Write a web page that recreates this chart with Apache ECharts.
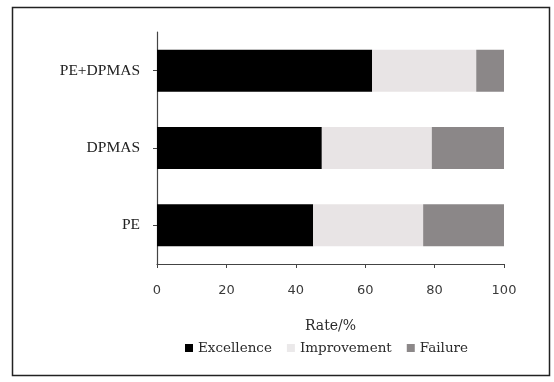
<!DOCTYPE html>
<html>
<head>
<meta charset="utf-8">
<script src="https://cdn.jsdelivr.net/npm/echarts@6/dist/echarts.min.js"></script>
<style>
html,body{margin:0;padding:0;background:#fff;}
#c{width:554px;height:382px;}
</style>
</head>
<body>
<div id="c"></div>
<script>
const categories = ['PE', 'DPMAS', 'PE+DPMAS'];
const excellence = [45, 47.5, 62];
const improvement = [31.7, 31.7, 30];
const failure = [23.3, 20.8, 8];
const xTicks = [0, 20, 40, 60, 80, 100];

const chart = echarts.init(document.getElementById('c'), null, {renderer: 'canvas'});
const serif = 'DejaVu Serif';
function bar(name, data, color) {
  return {
    name: name, type: 'bar', stack: 'total', data: data,
    barWidth: 42,
    itemStyle: {color: color},
    emphasis: {disabled: true}
  };
}
chart.setOption({
  animation: false,
  backgroundColor: '#fff',
  grid: {left: 157, right: 50, top: 32, bottom: 118},
  legend: {
    top: 336, left: 180,
    itemWidth: 8, itemHeight: 8, itemGap: 15,
    icon: 'rect',
    textStyle: {fontFamily: serif, fontSize: 13.5, color: '#2a2a2a'},
    data: [
      {name: 'Excellence', itemStyle: {color: '#000'}},
      {name: 'Improvement', itemStyle: {color: '#ebe9ea'}},
      {name: 'Failure', itemStyle: {color: '#8c8889'}}
    ]
  },
  xAxis: {
    type: 'value', min: xTicks[0], max: xTicks[xTicks.length - 1], interval: 20,
    name: 'Rate/%', nameLocation: 'middle', nameGap: 55,
    nameTextStyle: {fontFamily: serif, fontSize: 14, color: '#2a2a2a'},
    axisLine: {show: true, lineStyle: {color: '#444', width: 1.2}},
    axisTick: {show: true, length: 4, lineStyle: {color: '#444'}},
    axisLabel: {margin: 20, fontFamily: 'DejaVu Sans', fontSize: 13, color: '#3a3a3a'},
    splitLine: {show: false}
  },
  yAxis: {
    type: 'category', data: categories,
    axisLine: {show: true, lineStyle: {color: '#444', width: 1.2}},
    axisTick: {show: true, alignWithLabel: true, length: 4, inside: false, lineStyle: {color: '#444'}},
    axisLabel: {margin: 17, fontFamily: 'Liberation Serif', fontSize: 15.5, color: '#222'}
  },
  series: [
    bar('Excellence', excellence, '#000000'),
    bar('Improvement', improvement, '#e8e4e5'),
    bar('Failure', failure, '#8b8788')
  ],
  graphic: [{
    type: 'rect', silent: true,
    shape: {x: 12.5, y: 7.5, width: 537, height: 368},
    style: {fill: 'none', stroke: '#222', lineWidth: 1.5}
  }]
});
</script>
</body>
</html>
